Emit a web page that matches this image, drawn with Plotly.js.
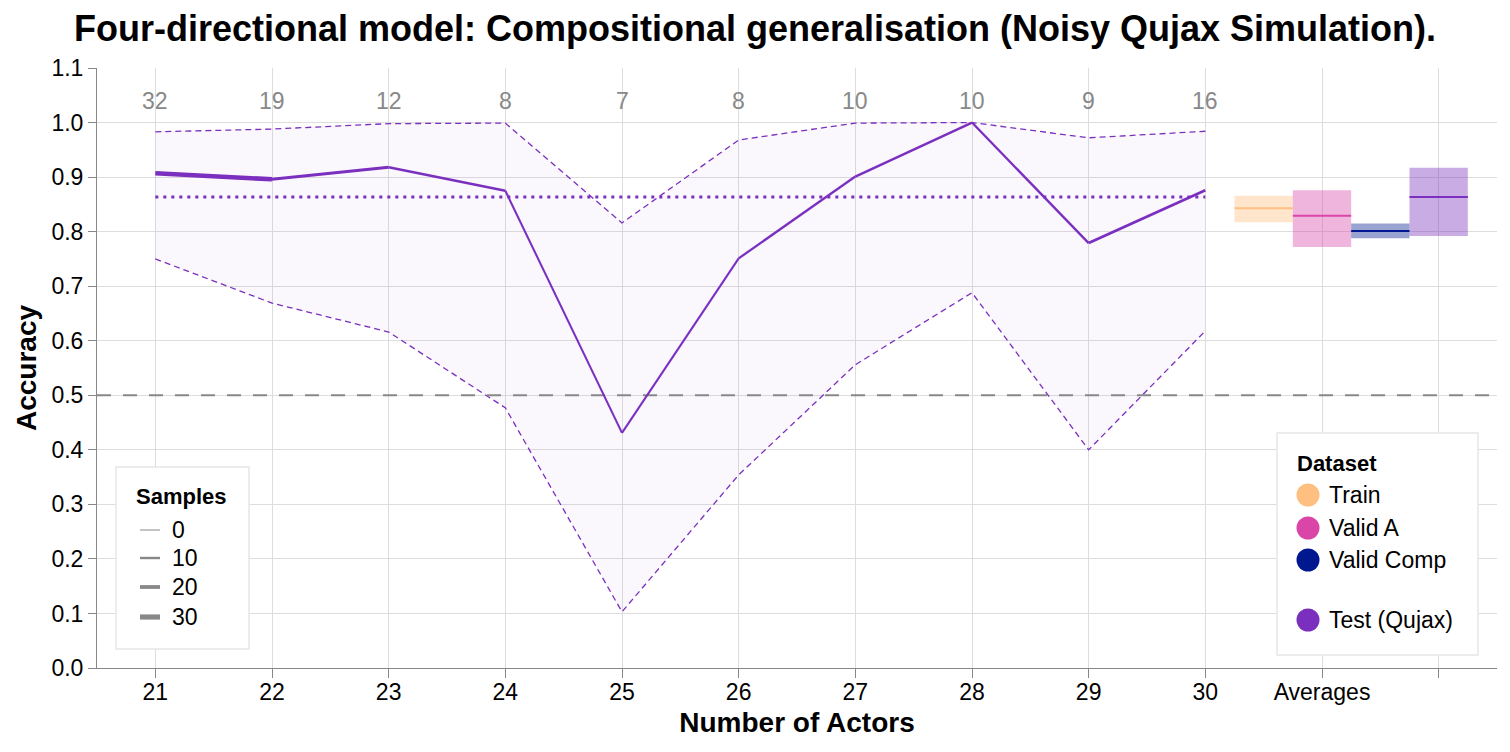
<!DOCTYPE html>
<html>
<head>
<meta charset="utf-8">
<script src="https://cdn.plot.ly/plotly-3.0.1.min.js"></script>
<style>html,body{margin:0;padding:0;background:#fff;}#chart{width:1510px;height:752px;}</style>
</head>
<body>
<div id="chart"></div>
<script>
// ---- data ----
const actors = ['21','22','23','24','25','26','27','28','29','30'];
const extraLabels = ['Averages',''];
const accuracy = [0.907, 0.896, 0.918, 0.875, 0.431, 0.751, 0.901, 1.000, 0.779, 0.876];
const upper    = [0.983, 0.988, 0.998, 0.999, 0.816, 0.968, 0.999, 1.000, 0.972, 0.984];
const lower    = [0.750, 0.669, 0.616, 0.477, 0.103, 0.354, 0.556, 0.688, 0.400, 0.618];
const samples  = [32, 19, 12, 8, 7, 8, 10, 10, 9, 16];
const datasets = ['Train', 'Valid A', 'Valid Comp', 'Test (Qujax)'];
const avgMean  = [0.843, 0.829, 0.801, 0.8635];
const avgLow   = [0.817, 0.772, 0.788, 0.792];
const avgHigh  = [0.866, 0.876, 0.815, 0.917];
const sampleLegend = [0, 10, 20, 30];
const chanceLevel = 0.5;

// ---- styles ----
const PURPLE = '#7b2fbf';
const dsColors = ['#ffbf80', '#d946a8', '#00188f', '#7b2fbf'];
const FONT = 'Liberation Sans, Arial, Helvetica, sans-serif';
const widthFor = s => 1 + s * 0.14;

// plot geometry (pixels) for legend placement
const M = {l: 97, r: 13, t: 68, b: 84};
const W = 1510, H = 752;
const PW = W - M.l - M.r, PH = H - M.t - M.b;
const px = v => (v - M.l) / PW;
const py = v => (H - M.b - v) / PH;

const xIdx = actors.map((_, i) => i);
const allLabels = actors.concat(extraLabels);
const traces = [];

// band
traces.push({x: xIdx, y: lower, mode: 'lines', line: {color: PURPLE, width: 1.3, dash: '6px,4px'}, showlegend: false, hoverinfo: 'skip'});
traces.push({x: xIdx, y: upper, mode: 'lines', line: {color: PURPLE, width: 1.3, dash: '6px,4px'}, fill: 'tonexty', fillcolor: 'rgba(123,47,191,0.035)', showlegend: false, hoverinfo: 'skip'});

// chance line
traces.push({x: [-0.5, allLabels.length - 0.5], y: [chanceLevel, chanceLevel], mode: 'lines', line: {color: '#888', width: 2, dash: '14px,12px'}, showlegend: false, hoverinfo: 'skip'});

// test mean dotted
traces.push({x: [0, actors.length - 1], y: [avgMean[3], avgMean[3]], mode: 'lines', line: {color: PURPLE, width: 3, dash: '3px,5px'}, showlegend: false, hoverinfo: 'skip'});

// trail segments (width follows sample count)
for (let i = 0; i < actors.length - 1; i++) {
  traces.push({x: [i, i + 1], y: [accuracy[i], accuracy[i + 1]], mode: 'lines',
    line: {color: PURPLE, width: (widthFor(samples[i]) + widthFor(samples[i + 1])) / 2},
    showlegend: false, hoverinfo: 'skip'});
}

// average boxes
const avgX = datasets.map((_, i) => actors.length - 0.5 + i * 0.5);
traces.push({type: 'bar', x: avgX, base: avgLow, y: avgHigh.map((h, i) => h - avgLow[i]), width: 0.5,
  marker: {color: dsColors, opacity: 0.4, line: {width: 0}}, showlegend: false, hoverinfo: 'skip'});
datasets.forEach((d, i) => {
  traces.push({x: [avgX[i] - 0.25, avgX[i] + 0.25], y: [avgMean[i], avgMean[i]], mode: 'lines',
    line: {color: dsColors[i], width: 2}, showlegend: false, hoverinfo: 'skip'});
});

// sample count annotations
const annotations = actors.map((a, i) => ({x: i, y: 1.04, xref: 'x', yref: 'y', text: String(samples[i]), showarrow: false,
  font: {family: FONT, size: 23, color: '#888'}}));

// ---- custom legends ----
const shapes = [];
const boxStyle = {type: 'rect', xref: 'paper', yref: 'paper', line: {color: '#e6e6e6', width: 1.5}, fillcolor: '#fff', layer: 'above'};
// Samples legend
shapes.push(Object.assign({}, boxStyle, {x0: px(116), x1: px(249), y0: py(649), y1: py(467)}));
annotations.push({xref: 'paper', yref: 'paper', x: px(134), y: py(496), xanchor: 'left', yanchor: 'middle', showarrow: false,
  text: 'Samples', font: {family: FONT, size: 22, weight: 'bold', color: '#000'}});
const sampleRows = [530, 558, 587, 617];
sampleLegend.forEach((s, i) => {
  shapes.push({type: 'line', xref: 'paper', yref: 'paper', x0: px(140), x1: px(160), y0: py(sampleRows[i]), y1: py(sampleRows[i]),
    line: {color: '#888', width: widthFor(s)}, layer: 'above'});
  annotations.push({xref: 'paper', yref: 'paper', x: px(170), y: py(sampleRows[i]), xanchor: 'left', yanchor: 'middle', showarrow: false,
    text: String(s), font: {family: FONT, size: 23, color: '#000'}});
});
// Dataset legend
shapes.push(Object.assign({}, boxStyle, {x0: px(1277), x1: px(1478), y0: py(655), y1: py(433)}));
annotations.push({xref: 'paper', yref: 'paper', x: px(1295), y: py(463), xanchor: 'left', yanchor: 'middle', showarrow: false,
  text: 'Dataset', font: {family: FONT, size: 22, weight: 'bold', color: '#000'}});
const dsRows = [495, 528, 560, 620];
const R = 11.5;
datasets.forEach((d, i) => {
  shapes.push({type: 'circle', xref: 'paper', yref: 'paper', x0: px(1308 - R), x1: px(1308 + R), y0: py(dsRows[i] + R), y1: py(dsRows[i] - R),
    fillcolor: dsColors[i], line: {width: 0}, layer: 'above'});
  annotations.push({xref: 'paper', yref: 'paper', x: px(1327), y: py(dsRows[i]), xanchor: 'left', yanchor: 'middle', showarrow: false,
    text: d, font: {family: FONT, size: 23, color: '#000'}});
});

const layout = {
  width: W, height: H,
  margin: M,
  paper_bgcolor: '#fff', plot_bgcolor: '#fff',
  font: {family: FONT, size: 23, color: '#000'},
  title: {text: 'Four-directional model: Compositional generalisation (Noisy Qujax Simulation).',
    font: {family: FONT, size: 36, color: '#000', weight: 'bold'}, x: 0.5, xref: 'container', y: 1 - 28 / 752, yref: 'container', yanchor: 'middle'},
  xaxis: {range: [-0.5, allLabels.length - 0.5], tickmode: 'array', tickvals: allLabels.map((_, i) => i), ticktext: allLabels,
    showgrid: true, gridcolor: '#ddd', gridwidth: 1, zeroline: false, showline: true, linecolor: '#888', linewidth: 1,
    ticks: 'outside', ticklen: 9, tickcolor: '#888', ticklabelstandoff: -6, tickfont: {family: FONT, size: 23, color: '#000'},
    title: {text: 'Number of Actors', font: {family: FONT, size: 28, weight: 'bold', color: '#000'}, standoff: 8}},
  yaxis: {range: [0, 1.1], dtick: 0.1, tick0: 0, tickformat: '.1f',
    showgrid: true, gridcolor: '#ddd', gridwidth: 1, zeroline: false, showline: true, linecolor: '#888', linewidth: 1,
    ticks: 'outside', ticklen: 8, tickcolor: '#888', tickfont: {family: FONT, size: 23, color: '#000'},
    title: {text: 'Accuracy', font: {family: FONT, size: 28, weight: 'bold', color: '#000'}, standoff: 6}},
  shapes: shapes,
  annotations: annotations,
  showlegend: false,
  hovermode: false
};

Plotly.newPlot('chart', traces, layout, {displayModeBar: false, staticPlot: true});
</script>
</body>
</html>
